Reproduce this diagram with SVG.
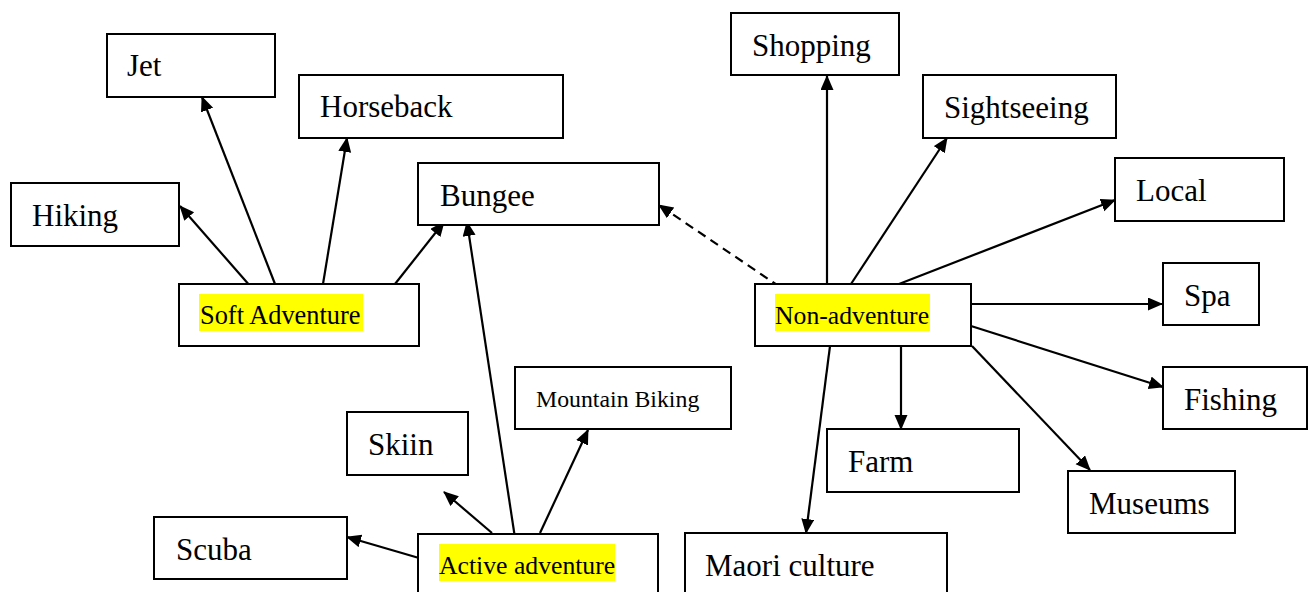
<svg xmlns="http://www.w3.org/2000/svg" width="1315" height="592" viewBox="0 0 1315 592">
  <defs>
    <style>
      .box { fill: #ffffff; stroke: #000000; stroke-width: 2; }
      .lbl { font-family: "Liberation Serif", "Times New Roman", serif; font-size: 31px; fill: #000000; }
      .cat { font-family: "Liberation Serif", "Times New Roman", serif; font-size: 25.7px; fill: #000000; }
      .small { font-family: "Liberation Serif", "Times New Roman", serif; font-size: 23.8px; fill: #000000; }
      .hl { fill: #ffff00; stroke: none; }
      .edge { stroke: #000000; stroke-width: 2.2; fill: none; marker-end: url(#arrow); }
      .dashed { stroke-dasharray: 9 6; }
    </style>
    <marker id="arrow" markerUnits="userSpaceOnUse" markerWidth="17" markerHeight="15" refX="14" refY="6.5" orient="auto">
      <path d="M0,0 L15,6.5 L0,13 Z" fill="#000000"/>
    </marker>
  </defs>

  <rect width="1315" height="592" fill="#ffffff"/>

  <!-- connectors -->
  <g id="connectors">
    <!-- Soft Adventure -->
    <line class="edge" x1="251" y1="287" x2="180" y2="206"/>
    <line class="edge" x1="275" y1="284" x2="202" y2="97"/>
    <line class="edge" x1="323" y1="284" x2="347" y2="138"/>
    <line class="edge" x1="395" y1="284" x2="444" y2="222"/>
    <!-- Active adventure -->
    <line class="edge" x1="515" y1="538" x2="467" y2="222"/>
    <line class="edge" x1="419" y1="558" x2="347" y2="537"/>
    <line class="edge" x1="492" y1="533" x2="444" y2="492"/>
    <line class="edge" x1="540" y1="533" x2="588" y2="430"/>
    <!-- Non-adventure -->
    <line class="edge dashed" x1="780" y1="287" x2="659" y2="205"/>
    <line class="edge" x1="827" y1="284" x2="827" y2="76"/>
    <line class="edge" x1="851" y1="284" x2="947" y2="138"/>
    <line class="edge" x1="899" y1="284" x2="1115" y2="200"/>
    <line class="edge" x1="971" y1="304" x2="1162" y2="304"/>
    <line class="edge" x1="971" y1="326" x2="1163" y2="387"/>
    <line class="edge" x1="972" y1="346" x2="1090" y2="470"/>
    <line class="edge" x1="901" y1="346" x2="901" y2="429"/>
    <line class="edge" x1="830" y1="346" x2="806" y2="533"/>
  </g>

  <!-- Soft Adventure cluster -->
  <g id="node-soft-adventure">
    <rect class="box" x="179" y="284" width="240" height="62"/>
    <rect class="hl" x="199" y="294" width="164" height="37"/>
    <text class="cat" x="200" y="324" style="font-size:26.4px">Soft Adventure</text>
  </g>
  <g id="node-jet">
    <rect class="box" x="107" y="34" width="168" height="63"/>
    <text class="lbl" x="127" y="76">Jet</text>
  </g>
  <g id="node-horseback">
    <rect class="box" x="299" y="75" width="264" height="63"/>
    <text class="lbl" x="320" y="117">Horseback</text>
  </g>
  <g id="node-hiking">
    <rect class="box" x="11" y="183" width="168" height="63"/>
    <text class="lbl" x="32" y="226">Hiking</text>
  </g>
  <g id="node-bungee">
    <rect class="box" x="418" y="163" width="241" height="62"/>
    <text class="lbl" x="440" y="206">Bungee</text>
  </g>

  <!-- Active adventure cluster -->
  <g id="node-active-adventure">
    <rect class="box" x="418" y="534" width="240" height="70"/>
    <rect class="hl" x="439" y="544" width="176" height="37"/>
    <text class="cat" x="439" y="574">Active adventure</text>
  </g>
  <g id="node-scuba">
    <rect class="box" x="154" y="517" width="193" height="62"/>
    <text class="lbl" x="176" y="560">Scuba</text>
  </g>
  <g id="node-skiin">
    <rect class="box" x="347" y="412" width="121" height="63"/>
    <text class="lbl" x="368" y="455">Skiin</text>
  </g>
  <g id="node-mountain-biking">
    <rect class="box" x="515" y="367" width="216" height="62"/>
    <text class="small" x="536" y="407">Mountain Biking</text>
  </g>

  <!-- Non-adventure cluster -->
  <g id="node-non-adventure">
    <rect class="box" x="755" y="284" width="216" height="62"/>
    <rect class="hl" x="775" y="294" width="155" height="37"/>
    <text class="cat" x="775" y="324">Non-adventure</text>
  </g>
  <g id="node-shopping">
    <rect class="box" x="731" y="13" width="168" height="62"/>
    <text class="lbl" x="752" y="56">Shopping</text>
  </g>
  <g id="node-sightseeing">
    <rect class="box" x="923" y="75" width="193" height="63"/>
    <text class="lbl" x="944" y="118">Sightseeing</text>
  </g>
  <g id="node-local">
    <rect class="box" x="1115" y="158" width="169" height="63"/>
    <text class="lbl" x="1136" y="201">Local</text>
  </g>
  <g id="node-spa">
    <rect class="box" x="1163" y="263" width="96" height="62"/>
    <text class="lbl" x="1184" y="306">Spa</text>
  </g>
  <g id="node-fishing">
    <rect class="box" x="1163" y="367" width="144" height="62"/>
    <text class="lbl" x="1184" y="410">Fishing</text>
  </g>
  <g id="node-farm">
    <rect class="box" x="827" y="429" width="192" height="63"/>
    <text class="lbl" x="848" y="472">Farm</text>
  </g>
  <g id="node-museums">
    <rect class="box" x="1068" y="471" width="167" height="62"/>
    <text class="lbl" x="1089" y="514">Museums</text>
  </g>
  <g id="node-maori-culture">
    <rect class="box" x="685" y="533" width="262" height="70"/>
    <text class="lbl" x="705" y="576">Maori culture</text>
  </g>
</svg>
